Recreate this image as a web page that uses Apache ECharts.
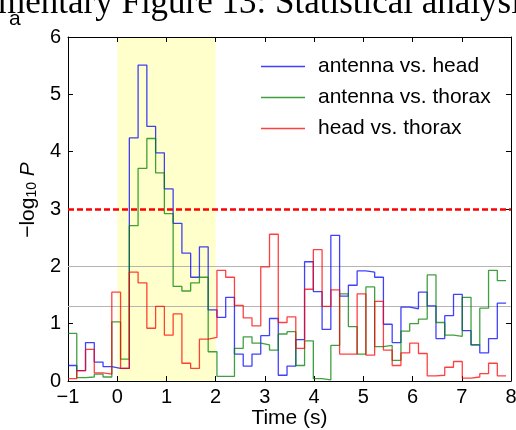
<!DOCTYPE html>
<html>
<head>
<meta charset="utf-8">
<script src="https://cdn.jsdelivr.net/npm/echarts@6/dist/echarts.min.js"></script>
<style>
  html, body { margin: 0; padding: 0; background: #ffffff; }
  #chart { width: 516px; height: 430px; }
</style>
</head>
<body>
<div id="chart"></div>
<script>
// Time base of the sliding-window test: 50 bins starting at -1 s
const binStart = -1;
const binWidth = 0.178;

// -log10 P for each bin
const antennaHead = [
  0.27, 0.18, 0.67, 0.33, 0.25, 0.22, 0.22, 4.24, 5.51, 4.44,
  3.98, 3.35, 2.75, 2.23, 1.81, 2.34, 1.24, 1.11, 1.46, 0.47,
  0.26, 0.47, 0.79, 1.09, 0.10, 0.26, 0.72, 2.08, 1.56, 0.90,
  2.54, 1.48, 1.67, 1.92, 1.90, 1.81, 0.99, 0.67, 1.29, 1.26,
  1.55, 1.31, 0.74, 1.14, 1.51, 0.88, 0.63, 0.49, 0.74, 1.36
];
const antennaThorax = [
  0.83, 0.06, 0.07, 0.12, 0.07, 1.03, 0.38, 2.71, 3.71, 4.23,
  3.63, 2.92, 1.65, 1.57, 1.71, 1.81, 0.51, 0.08, 0.08, 0.57,
  0.77, 0.66, 0.63, 0.54, 0.82, 0.86, 0.27, 0.70, 0.04, 0.02,
  0.62, 1.52, 0.95, 0.47, 1.64, 0.60, 0.62, 0.36, 0.87, 1.00,
  1.08, 1.85, 1.02, 0.80, 0.78, 1.46, 0.63, 1.27, 1.93, 1.75
];
const headThorax = [
  0.04, 0.18, 0.55, 0.14, 0.12, 1.55, 0.22, 1.90, 1.71, 0.92,
  1.30, 0.80, 1.17, 0.31, 0.22, 0.73, 0.76, 1.93, 1.81, 1.32,
  1.10, 0.96, 1.99, 2.56, 1.02, 1.12, 0.57, 1.60, 2.29, 1.30,
  1.59, 0.47, 0.47, 1.52, 0.45, 1.39, 0.54, 0.27, 0.49, 0.66,
  0.48, 0.09, 0.10, 0.24, 0.34, 0.05, 0.07, 0.13, 0.31, 0.09
];

const seriesNames = ['antenna vs. head', 'antenna vs. thorax', 'head vs. thorax'];
const seriesColors = ['rgba(0,0,255,0.75)', 'rgba(0,128,0,0.75)', 'rgba(255,0,0,0.75)'];

// Significance levels: p = 0.01 and p = 0.05, plus the corrected level
const uncorrectedLevels = [2, 1.30103];
const correctedLevel = 3;
// Stimulus window (s)
const stimulusWindow = [0, 2];

const xRange = [-1, 8];
const yRange = [0, 6];

// Turn per-bin values into left-edge points plus a closing point for a post-step line
function stepPoints(values) {
  const pts = values.map((v, k) => [binStart + k * binWidth, v]);
  pts.push([binStart + values.length * binWidth, values[values.length - 1]]);
  return pts;
}

const FONT = 'Liberation Sans';
const minusFmt = v => (v < 0 ? '\u2212' + Math.abs(v) : String(v));

const chart = echarts.init(document.getElementById('chart'), null, { renderer: 'canvas' });

const frameAxis = {
  axisLine: { show: true, onZero: false, lineStyle: { color: '#000', width: 1 } },
  axisTick: { show: true, inside: true, length: 5, lineStyle: { color: '#000', width: 1 } },
  splitLine: { show: false }
};

const lineSeries = [antennaHead, antennaThorax, headThorax].map((vals, i) => ({
  name: seriesNames[i],
  type: 'line',
  step: 'end',
  xAxisIndex: 0,
  yAxisIndex: 0,
  data: stepPoints(vals),
  symbol: 'none',
  showSymbol: false,
  z: 2,
  color: seriesColors[i],
  itemStyle: { color: seriesColors[i] },
  lineStyle: { color: seriesColors[i], width: 1.3 },
  animation: false
}));

chart.setOption({
  animation: false,
  backgroundColor: '#ffffff',
  grid: { left: 68, right: 5, top: 37, bottom: 49, containLabel: false, outerBoundsMode: 'none' },
  xAxis: [
    Object.assign({
      type: 'value', min: xRange[0], max: xRange[1], interval: 1, position: 'bottom',
      axisLabel: { color: '#000', fontSize: 20, fontFamily: FONT, margin: 6, formatter: minusFmt },
      name: 'Time (s)', nameLocation: 'middle', nameGap: 27, nameMoveOverlap: false,
      nameTextStyle: { color: '#000', fontSize: 21, fontFamily: FONT, verticalAlign: 'top' }
    }, frameAxis),
    Object.assign({
      type: 'value', min: xRange[0], max: xRange[1], interval: 1, position: 'top',
      axisLabel: { show: false }
    }, frameAxis)
  ],
  yAxis: [
    Object.assign({
      type: 'value', min: yRange[0], max: yRange[1], interval: 1, position: 'left',
      axisLabel: { color: '#000', fontSize: 20, fontFamily: FONT, margin: 7 },
      name: '{t|\u2212log}{s|10}{t| }{i|P}', nameLocation: 'middle', nameRotate: 90, nameGap: 29,
      nameMoveOverlap: false,
      nameTextStyle: {
        color: '#000', fontFamily: FONT, padding: [0, 0, 0, 18],
        rich: {
          t: { fontSize: 21, fontFamily: FONT, color: '#000' },
          s: { fontSize: 14, fontFamily: FONT, color: '#000', verticalAlign: 'bottom', padding: [8, 0, 0, 0] },
          i: { fontSize: 21, fontFamily: FONT, fontStyle: 'italic', color: '#000' }
        }
      }
    }, frameAxis),
    Object.assign({
      type: 'value', min: yRange[0], max: yRange[1], interval: 1, position: 'right',
      axisLabel: { show: false }
    }, frameAxis)
  ],
  legend: {
    orient: 'vertical', left: 256, top: 51,
    icon: 'rect', itemWidth: 44, itemHeight: 1.4, itemGap: 10,
    textStyle: { color: '#000', fontSize: 21, fontFamily: FONT, lineHeight: 21, padding: [0, 0, 0, 8] },
    data: seriesNames
  },
  series: [
    {
      // stimulus shading and uncorrected significance levels
      type: 'line', data: [], silent: true, z: 1,
      markArea: {
        silent: true, z: 0,
        itemStyle: { color: '#ffffcc' },
        data: [[{ xAxis: stimulusWindow[0] }, { xAxis: stimulusWindow[1] }]]
      },
      markLine: {
        silent: true, z: 1, symbol: ['none', 'none'],
        label: { show: false },
        lineStyle: { color: '#b4b4b4', width: 1, type: 'solid' },
        data: uncorrectedLevels.map(v => ({ yAxis: v }))
      }
    },
    ...lineSeries,
    {
      // corrected significance level
      type: 'line', data: [], silent: true, z: 5,
      markLine: {
        silent: true, z: 5, symbol: ['none', 'none'],
        label: { show: false },
        lineStyle: { color: '#ff0000', width: 2.6, type: [6, 3] },
        data: [{ yAxis: correctedLevel }]
      }
    }
  ],
  graphic: [
    {
      type: 'text', left: -2, top: -14, silent: true,
      style: { text: 'mentary Figure 13: Statistical analysis', font: '35px "Liberation Serif"', fill: '#000' }
    },
    {
      type: 'text', left: 9, top: 9, silent: true,
      style: { text: 'a', font: '21px "Liberation Sans"', fill: '#000' }
    }
  ]
});
</script>
</body>
</html>
